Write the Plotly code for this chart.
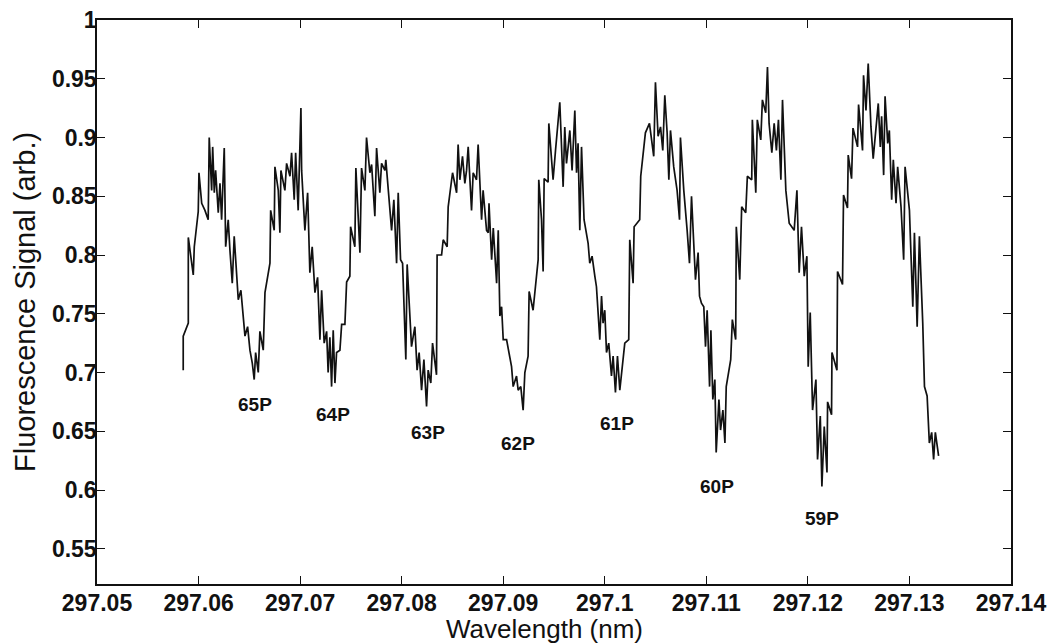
import plotly.graph_objects as go

# Wavelength offsets from 297.000 nm, in picometres
offset_pm = [
    58.49, 58.49, 58.99, 58.99, 59.48, 59.58, 59.97, 60.04, 60.31, 60.63,
    60.95, 61.05, 61.29, 61.39, 61.55, 61.68, 61.94, 62.11, 62.27, 62.53,
    62.67, 62.92, 63.09, 63.32, 63.51, 63.75, 63.91, 64.17, 64.40, 64.57,
    64.83, 65.06, 65.29, 65.48, 65.62, 65.88, 66.04, 66.37, 66.54, 67.03,
    67.10, 67.45, 67.52, 67.85, 68.01, 68.11, 68.50, 68.67, 69.00, 69.16,
    69.42, 69.56, 69.81, 70.08, 70.15, 70.47, 70.74, 70.96, 71.19, 71.46,
    71.72, 71.95, 72.12, 72.37, 72.61, 72.76, 72.93, 73.10, 73.26, 73.43,
    73.59, 73.92, 74.09, 74.41, 74.58, 74.90, 74.97, 75.39, 75.49, 75.89,
    76.05, 76.38, 76.54, 76.87, 77.04, 77.36, 77.53, 77.85, 78.02, 78.35,
    78.44, 78.77, 79.01, 79.23, 79.50, 79.66, 79.89, 80.09, 80.41, 80.54,
    80.81, 80.97, 81.30, 81.52, 81.72, 81.96, 82.19, 82.45, 82.61, 82.87,
    83.04, 83.43, 83.49, 83.93, 84.09, 84.48, 84.58, 85.01, 85.41, 85.56,
    85.73, 85.99, 86.22, 86.39, 86.55, 86.88, 87.04, 87.37, 87.53, 87.87,
    88.02, 88.36, 88.53, 88.60, 88.86, 89.02, 89.35, 89.51, 89.67, 89.84,
    90.00, 90.33, 90.82, 90.98, 91.31, 91.47, 91.73, 91.96, 92.13, 92.45,
    92.55, 92.94, 93.44, 93.50, 93.77, 93.93, 94.03, 94.42, 94.49, 94.91,
    95.15, 95.57, 95.90, 96.06, 96.23, 96.56, 96.78, 97.05, 97.22, 97.37,
    97.54, 97.71, 97.96, 98.36, 98.52, 98.75, 99.02, 99.18, 99.51, 99.68,
    99.83, 100.00, 100.17, 100.39, 100.66, 100.82, 101.05, 101.25, 101.48, 101.64,
    101.97, 102.36, 102.46, 102.79, 102.89, 103.44, 103.54, 104.00, 104.40, 104.82,
    104.99, 105.25, 105.49, 105.71, 105.91, 106.14, 106.31, 106.47, 106.79, 107.12,
    107.36, 107.45, 107.78, 108.11, 108.34, 108.54, 108.76, 108.93, 109.19, 109.33,
    109.52, 109.75, 109.92, 110.08, 110.32, 110.45, 110.64, 110.84, 110.97, 111.24,
    111.40, 111.63, 111.83, 111.96, 112.40, 112.56, 112.89, 112.95, 113.29, 113.48,
    113.88, 114.04, 114.47, 114.53, 114.87, 115.02, 115.36, 115.52, 115.85, 116.02,
    116.18, 116.45, 116.68, 116.90, 117.10, 117.34, 117.50, 117.83, 118.16, 118.65,
    118.92, 119.14, 119.37, 119.64, 119.90, 120.03, 120.23, 120.46, 120.79, 120.95,
    121.22, 121.38, 121.61, 121.88, 121.94, 122.33, 122.37, 122.86, 122.92, 123.41,
    123.51, 123.90, 123.97, 124.30, 124.44, 124.89, 124.99, 125.38, 125.48, 125.72,
    125.94, 126.21, 126.43, 126.70, 126.93, 127.13, 127.26, 127.46, 127.60, 127.86,
    128.02, 128.25, 128.41, 128.68, 128.84, 129.17, 129.43, 129.57, 130.00, 130.33,
    130.49, 130.76, 130.98, 131.31, 131.48, 131.74, 131.96, 132.19, 132.38, 132.55,
    132.87,
]

signal = [
    0.702, 0.731, 0.742, 0.815, 0.783, 0.807, 0.837, 0.870, 0.844, 0.838,
    0.830, 0.900, 0.855, 0.892, 0.853, 0.872, 0.836, 0.861, 0.830, 0.891,
    0.807, 0.830, 0.804, 0.776, 0.816, 0.785, 0.762, 0.770, 0.745, 0.731,
    0.739, 0.719, 0.708, 0.694, 0.717, 0.700, 0.735, 0.719, 0.768, 0.793,
    0.838, 0.821, 0.875, 0.855, 0.819, 0.872, 0.855, 0.878, 0.867, 0.887,
    0.847, 0.887, 0.838, 0.925, 0.872, 0.821, 0.853, 0.785, 0.807, 0.768,
    0.781, 0.728, 0.770, 0.725, 0.735, 0.700, 0.730, 0.688, 0.736, 0.691,
    0.717, 0.719, 0.741, 0.741, 0.777, 0.782, 0.824, 0.807, 0.874, 0.802,
    0.874, 0.855, 0.900, 0.870, 0.877, 0.833, 0.891, 0.853, 0.878, 0.872,
    0.881, 0.844, 0.821, 0.847, 0.793, 0.853, 0.796, 0.793, 0.711, 0.792,
    0.751, 0.722, 0.739, 0.702, 0.717, 0.685, 0.711, 0.671, 0.702, 0.691,
    0.725, 0.698, 0.800, 0.800, 0.813, 0.807, 0.841, 0.870, 0.853, 0.894,
    0.864, 0.884, 0.861, 0.872, 0.892, 0.838, 0.870, 0.864, 0.894, 0.830,
    0.855, 0.821, 0.819, 0.844, 0.796, 0.823, 0.776, 0.821, 0.748, 0.756,
    0.728, 0.728, 0.705, 0.688, 0.697, 0.685, 0.688, 0.668, 0.700, 0.714,
    0.769, 0.753, 0.796, 0.864, 0.830, 0.786, 0.865, 0.862, 0.912, 0.864,
    0.889, 0.930, 0.858, 0.909, 0.878, 0.906, 0.872, 0.923, 0.870, 0.895,
    0.821, 0.892, 0.830, 0.810, 0.793, 0.799, 0.782, 0.773, 0.728, 0.765,
    0.742, 0.753, 0.717, 0.725, 0.697, 0.714, 0.683, 0.714, 0.685, 0.700,
    0.725, 0.728, 0.813, 0.776, 0.824, 0.830, 0.867, 0.904, 0.912, 0.884,
    0.947, 0.901, 0.909, 0.889, 0.936, 0.904, 0.864, 0.906, 0.875, 0.855,
    0.830, 0.900, 0.855, 0.821, 0.793, 0.850, 0.802, 0.779, 0.802, 0.765,
    0.759, 0.756, 0.722, 0.753, 0.688, 0.736, 0.677, 0.694, 0.632, 0.677,
    0.651, 0.668, 0.640, 0.688, 0.711, 0.745, 0.728, 0.824, 0.779, 0.841,
    0.836, 0.867, 0.864, 0.915, 0.853, 0.915, 0.898, 0.932, 0.921, 0.960,
    0.912, 0.887, 0.912, 0.889, 0.915, 0.864, 0.932, 0.855, 0.827, 0.821,
    0.855, 0.785, 0.824, 0.782, 0.799, 0.705, 0.751, 0.668, 0.694, 0.626,
    0.663, 0.603, 0.654, 0.615, 0.675, 0.664, 0.717, 0.702, 0.786, 0.775,
    0.851, 0.840, 0.885, 0.865, 0.908, 0.892, 0.928, 0.889, 0.953, 0.923,
    0.963, 0.909, 0.882, 0.906, 0.929, 0.892, 0.918, 0.868, 0.935, 0.895,
    0.906, 0.847, 0.881, 0.844, 0.875, 0.841, 0.796, 0.875, 0.838, 0.756,
    0.819, 0.739, 0.816, 0.742, 0.688, 0.680, 0.640, 0.649, 0.626, 0.649,
    0.629,
]

# Rotational line labels (P branch) placed under each dip
line_labels = ["65P", "64P", "63P", "62P", "61P", "60P", "59P"]
label_pm = [65.55, 73.23, 82.58, 91.44, 101.18, 111.02, 121.36]
label_signal = [0.673, 0.664, 0.649, 0.640, 0.657, 0.603, 0.576]

x_ticks = [297.05, 297.06, 297.07, 297.08, 297.09, 297.10, 297.11, 297.12, 297.13, 297.14]
x_tick_text = ["297.05", "297.06", "297.07", "297.08", "297.09", "297.1",
               "297.11", "297.12", "297.13", "297.14"]
y_ticks = [0.55, 0.60, 0.65, 0.70, 0.75, 0.80, 0.85, 0.90, 0.95, 1.00]
y_tick_text = ["0.55", "0.6", "0.65", "0.7", "0.75", "0.8", "0.85", "0.9", "0.95", "1"]

x_title = "Wavelength (nm)"
y_title = "Fluorescence Signal (arb.)"

wavelength = [297.0 + v / 1000.0 for v in offset_pm]
label_wl = [297.0 + v / 1000.0 for v in label_pm]

FONT = "Liberation Sans, Arial, Helvetica, sans-serif"
INK = "#111111"

fig = go.Figure()
fig.add_trace(go.Scatter(
    x=wavelength, y=signal, mode="lines",
    line=dict(color=INK, width=1.7),
    hoverinfo="skip", showlegend=False,
))

for txt, lx, ly in zip(line_labels, label_wl, label_signal):
    fig.add_annotation(
        x=lx, y=ly, text=f"<b>{txt}</b>", showarrow=False,
        font=dict(family=FONT, size=19, color=INK),
        xanchor="center", yanchor="middle",
    )

# Axis titles as free annotations so they sit tight against the tick labels
fig.add_annotation(
    x=0.5, y=0, xref="paper", yref="paper", text=x_title, showarrow=False,
    xanchor="center", yanchor="bottom", xshift=-10, yshift=-61,
    borderpad=0,
    font=dict(family=FONT, size=26, color=INK),
)
fig.add_annotation(
    x=0, y=0.5, xref="paper", yref="paper", text=y_title, showarrow=False,
    textangle=-90, xanchor="center", yanchor="middle", xshift=-72,
    font=dict(family=FONT, size=29, color=INK),
)

axis_common = dict(
    showgrid=False, zeroline=False, showline=True, linecolor=INK,
    linewidth=1.5, mirror="ticks", ticks="inside", ticklen=8,
    tickcolor=INK, tickwidth=1, automargin=False,
    tickfont=dict(family=FONT, size=23, color=INK),
)

fig.update_layout(
    width=1052, height=644,
    margin=dict(l=97, r=41, t=20, b=60),
    paper_bgcolor="white", plot_bgcolor="white",
    xaxis=dict(
        range=[297.05, 297.14], tickvals=x_ticks,
        ticktext=[f"<b>{t}</b>" for t in x_tick_text],
        ticklabelstandoff=-2,
        **axis_common,
    ),
    yaxis=dict(
        range=[0.52, 1.0], tickvals=y_ticks,
        ticktext=[f"<b>{t}</b>" for t in y_tick_text],
        ticklabelstandoff=-6,
        **axis_common,
    ),
)

fig.write_html("out.html")
